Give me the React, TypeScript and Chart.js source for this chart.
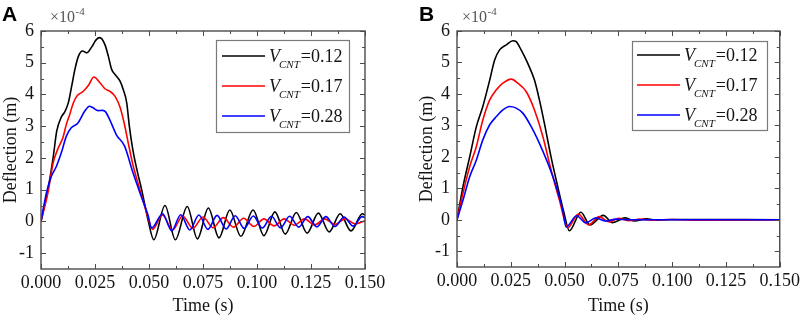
import React, { useEffect, useRef } from 'react';
import { Chart, registerables } from 'chart.js';

Chart.register(...registerables);

type Pt = [number, number];

// ---------- data (time in s, deflection in 1e-4 m) ----------
const X_TICKS = [0, 0.025, 0.05, 0.075, 0.1, 0.125, 0.15];
const Y_TICKS = [-1, 0, 1, 2, 3, 4, 5, 6];
const LEGEND_VALUES = ['0.12', '0.17', '0.28'];
const SERIES_COLORS = ['#000000', '#ff0000', '#0000ff'];
const X_TITLE = 'Time (s)';
const Y_TITLE = 'Deflection (m)';
const PANEL_LETTERS = ['A', 'B'];

const A_012: Pt[] = [
  [0, 0], [0.0016, 0.5], [0.0032, 1.0], [0.0056, 2.0], [0.0073, 2.85], [0.0095, 3.3], [0.011, 3.45],
  [0.0127, 3.75], [0.0142, 4.26], [0.0157, 4.79], [0.0173, 5.2], [0.0192, 5.37], [0.0212, 5.31],
  [0.0235, 5.5], [0.0255, 5.72], [0.0272, 5.79], [0.0296, 5.57], [0.0312, 5.2], [0.0327, 4.79],
  [0.0343, 4.63], [0.0366, 4.42], [0.0381, 4.15], [0.0397, 3.73], [0.0409, 3.0], [0.0425, 2.26],
  [0.0445, 1.6], [0.0466, 1.0], [0.0497, 0], [0.0522, -0.58],
  [0.0574, 0.5], [0.0622, -0.58], [0.0677, 0.47], [0.0724, -0.55], [0.0775, 0.42], [0.0824, -0.52],
  [0.0874, 0.36], [0.0925, -0.47], [0.0982, 0.36], [0.1032, -0.45], [0.1083, 0.3], [0.1131, -0.4],
  [0.1182, 0.28], [0.1232, -0.37], [0.1284, 0.26], [0.1334, -0.33], [0.1385, 0.24], [0.1435, -0.3],
  [0.1488, 0.24], [0.15, 0.2],
];
const A_017: Pt[] = [
  [0, 0], [0.0032, 0.9], [0.0056, 1.84], [0.0079, 2.3], [0.0102, 2.65], [0.0117, 3.05], [0.0133, 3.37],
  [0.0148, 3.7], [0.0165, 3.94], [0.0196, 4.1], [0.0219, 4.28], [0.0245, 4.55], [0.0273, 4.37],
  [0.0296, 4.18], [0.0319, 4.1], [0.0343, 3.94], [0.0366, 3.6], [0.0385, 3.1], [0.0403, 2.5],
  [0.0425, 1.8], [0.0449, 1.2], [0.0488, 0.3], [0.0517, -0.25],
  [0.0562, 0.2], [0.0609, -0.27], [0.0656, 0.17], [0.0703, -0.22], [0.075, 0.14], [0.0797, -0.2],
  [0.0844, 0.12], [0.0891, -0.18], [0.0938, 0.1], [0.0985, -0.16], [0.1032, 0.08], [0.1079, -0.14],
  [0.1126, 0.08], [0.1173, -0.12], [0.122, 0.08], [0.1267, -0.11], [0.1314, 0.08], [0.1361, -0.1],
  [0.1408, 0.08], [0.1455, -0.08], [0.15, 0.02],
];
const A_028: Pt[] = [
  [0, 0], [0.0025, 0.9], [0.0048, 1.42], [0.0071, 1.73], [0.0094, 2.16], [0.0117, 2.68], [0.014, 2.95],
  [0.0171, 3.1], [0.0202, 3.47], [0.0225, 3.63], [0.0241, 3.58], [0.0264, 3.49], [0.0285, 3.5],
  [0.0298, 3.46], [0.0318, 3.21], [0.0349, 2.73], [0.0387, 2.37], [0.0426, 1.53], [0.0464, 0.79],
  [0.0495, 0.21], [0.0512, -0.21],
  [0.0563, 0.24], [0.0605, -0.3], [0.0647, 0.21], [0.0689, -0.27], [0.0731, 0.2], [0.0773, -0.25],
  [0.0815, 0.19], [0.0857, -0.24], [0.0899, 0.18], [0.0941, -0.22], [0.0983, 0.17], [0.1025, -0.21],
  [0.1067, 0.16], [0.1109, -0.2], [0.1151, 0.16], [0.1193, -0.18], [0.1235, 0.15], [0.1277, -0.17],
  [0.1319, 0.15], [0.1361, -0.16], [0.1403, 0.14], [0.1445, -0.15], [0.1487, 0.15], [0.15, 0.12],
];

const B_012: Pt[] = [
  [0, 0], [0.0028, 1.06], [0.0059, 2.0], [0.009, 2.96], [0.012, 3.6], [0.0152, 4.44], [0.0175, 5.08],
  [0.0198, 5.4], [0.0229, 5.56], [0.026, 5.69], [0.0275, 5.66], [0.0298, 5.4], [0.0329, 4.97],
  [0.036, 4.44], [0.0383, 3.81], [0.0406, 3.07], [0.0437, 2.0], [0.0468, 1.06], [0.0496, 0.26],
  [0.0522, -0.35],
  [0.0576, 0.24], [0.0618, -0.16], [0.068, 0.14], [0.0723, -0.09], [0.0782, 0.06], [0.0825, -0.04],
  [0.088, 0.03], [0.093, -0.01], [0.1, 0.01], [0.15, 0],
];
const B_017: Pt[] = [
  [0, 0], [0.0028, 0.85], [0.0059, 1.69], [0.009, 2.33], [0.012, 3.17], [0.0152, 3.81], [0.0183, 4.13],
  [0.0213, 4.34], [0.0252, 4.47], [0.0283, 4.34], [0.0322, 4.07], [0.036, 3.49], [0.0399, 2.65],
  [0.0437, 1.59], [0.0476, 0.63], [0.0515, -0.25],
  [0.0564, 0.18], [0.0612, -0.16], [0.0661, 0.1], [0.0708, -0.07], [0.0752, 0.05], [0.08, -0.03],
  [0.085, 0.02], [0.09, -0.01], [0.1, 0.01], [0.11, -0.01], [0.15, 0],
];
const B_028: Pt[] = [
  [0, 0], [0.0028, 0.63], [0.0059, 1.37], [0.009, 1.9], [0.012, 2.54], [0.0152, 3.02], [0.0183, 3.28],
  [0.0213, 3.49], [0.0244, 3.6], [0.0275, 3.55], [0.0306, 3.39], [0.0345, 2.96], [0.0383, 2.43],
  [0.0422, 1.8], [0.0461, 1.06], [0.0491, 0.32], [0.0507, -0.23],
  [0.0556, 0.13], [0.0599, -0.1], [0.0646, 0.06], [0.069, -0.04], [0.074, 0.02], [0.08, 0], [0.15, 0],
];

// ---------- styling ----------
const SERIF = "'Liberation Serif', 'Times New Roman', serif";
const SANS = "'Liberation Sans', Arial, sans-serif";
const TEXT = '#141414';
const AXIS = '#4a4a4a';

type Layout = {
  canvasLeft: number; width: number; padLeft: number; padRight: number; padTop: number;
  yAxisW: number; xAxisH: number;
  letterX: number; expX: number;
  legend: { x: number; y: number; w: number; h: number; lineX0: number; lineX1: number; textX: number; row0: number; rowStep: number };
};

const LAYOUTS: Layout[] = [
  {
    canvasLeft: 0, width: 401, padLeft: 0, padRight: 36, padTop: 31, yAxisW: 41, xAxisH: 48,
    letterX: 2, expX: 50,
    legend: { x: 216, y: 40, w: 133, h: 92, lineX0: 222, lineX1: 265, textX: 269, row0: 56, rowStep: 30 },
  },
  {
    canvasLeft: 401, width: 402, padLeft: 15, padRight: 22, padTop: 31, yAxisW: 41, xAxisH: 50,
    letterX: 18, expX: 61,
    legend: { x: 231, y: 41, w: 135, h: 89, lineX0: 236, lineX1: 279, textX: 283, row0: 55, rowStep: 30 },
  },
];

const frameTicksPlugin = {
  id: 'frameTicks',
  afterDatasetsDraw(chart: any) {
    const { ctx, chartArea } = chart;
    const { left, right, top, bottom } = chartArea;
    const xs = chart.scales.x;
    const ys = chart.scales.y;
    ctx.save();
    ctx.strokeStyle = AXIS;
    ctx.lineWidth = 1;
    const xv: number[] = xs.ticks.map((t: any) => t.value);
    const yv: number[] = ys.ticks.map((t: any) => t.value);
    const xMinor: number[] = [];
    for (let i = 0; i < xv.length - 1; i++) xMinor.push((xv[i] + xv[i + 1]) / 2);
    const yMinor: number[] = [];
    for (let i = 0; i < yv.length - 1; i++) yMinor.push((yv[i] + yv[i + 1]) / 2);
    ctx.beginPath();
    const hx = (v: number, len: number) => {
      const p = Math.round(xs.getPixelForValue(v)) + 0.5;
      ctx.moveTo(p, bottom); ctx.lineTo(p, bottom - len);
      ctx.moveTo(p, top); ctx.lineTo(p, top + len);
    };
    const hy = (v: number, len: number) => {
      const p = Math.round(ys.getPixelForValue(v)) + 0.5;
      ctx.moveTo(left, p); ctx.lineTo(left + len, p);
      ctx.moveTo(right, p); ctx.lineTo(right - len, p);
    };
    xv.forEach((v) => hx(v, 5));
    xMinor.forEach((v) => hx(v, 3));
    yv.forEach((v) => hy(v, 5));
    yMinor.forEach((v) => hy(v, 3));
    ctx.stroke();
    ctx.lineWidth = 1.4;
    ctx.strokeRect(left, top, right - left, bottom - top);
    ctx.restore();
  },
};

function makeLegendPlugin(L: Layout) {
  return {
    id: 'vcntLegend',
    afterDatasetsDraw(chart: any) {
      const { ctx } = chart;
      const g = L.legend;
      ctx.save();
      ctx.fillStyle = '#ffffff';
      ctx.fillRect(g.x, g.y, g.w, g.h);
      ctx.strokeStyle = '#7a7a7a';
      ctx.lineWidth = 1.2;
      ctx.strokeRect(g.x + 0.5, g.y + 0.5, g.w, g.h);
      chart.data.datasets.forEach((ds: any, i: number) => {
        const ly = g.row0 + i * g.rowStep;
        ctx.strokeStyle = ds.borderColor;
        ctx.lineWidth = 1.6;
        ctx.beginPath();
        ctx.moveTo(g.lineX0, ly);
        ctx.lineTo(g.lineX1, ly);
        ctx.stroke();
        const base = ly + 6;
        let tx = g.textX;
        ctx.fillStyle = TEXT;
        ctx.textBaseline = 'alphabetic';
        ctx.textAlign = 'left';
        ctx.font = `italic 18px ${SERIF}`;
        ctx.fillText('V', tx, base);
        tx += ctx.measureText('V').width - 1;
        ctx.font = `italic 11px ${SERIF}`;
        ctx.fillText('CNT', tx, base + 6);
        tx += ctx.measureText('CNT').width + 1;
        ctx.font = `18px ${SERIF}`;
        ctx.fillText('=' + LEGEND_VALUES[i], tx, base);
      });
      ctx.restore();
    },
  };
}

function makeAnnotPlugin(letter: string, L: Layout) {
  return {
    id: 'panelAnnot',
    afterDraw(chart: any) {
      const { ctx } = chart;
      ctx.save();
      ctx.textBaseline = 'alphabetic';
      ctx.textAlign = 'left';
      ctx.fillStyle = '#000';
      ctx.font = `bold 21px ${SANS}`;
      ctx.fillText(letter, L.letterX, 21);
      ctx.fillStyle = '#555';
      ctx.font = `16px ${SERIF}`;
      ctx.fillText('\u00d710', L.expX, 22);
      const w = ctx.measureText('\u00d710').width;
      ctx.font = `11px ${SERIF}`;
      ctx.fillText('-4', L.expX + w + 0.5, 15);
      ctx.restore();
    },
  };
}

function Panel({ index, series }: { index: number; series: Pt[][] }) {
  const ref = useRef<HTMLCanvasElement | null>(null);
  const L = LAYOUTS[index];
  useEffect(() => {
    if (!ref.current) return;
    const chart = new Chart(ref.current, {
      type: 'scatter',
      data: {
        datasets: series.map((s, i) => ({
          label: `VCNT=${LEGEND_VALUES[i]}`,
          data: s.map(([x, y]) => ({ x, y })),
          showLine: true,
          borderColor: SERIES_COLORS[i],
          backgroundColor: SERIES_COLORS[i],
          borderWidth: 1.6,
          pointRadius: 0,
          pointHoverRadius: 0,
          cubicInterpolationMode: 'monotone',
          order: 2 - i,
        })),
      },
      options: {
        responsive: false,
        animation: false,
        events: [],
        layout: { padding: { left: L.padLeft, right: L.padRight, top: L.padTop, bottom: 0 } },
        plugins: { legend: { display: false }, tooltip: { enabled: false }, title: { display: false } },
        scales: {
          x: {
            type: 'linear',
            min: 0,
            max: 0.15,
            border: { display: false },
            grid: { display: false, drawTicks: false },
            afterBuildTicks: (s: any) => { s.ticks = X_TICKS.map((v) => ({ value: v })); },
            ticks: {
              callback: (v: any) => Number(v).toFixed(3),
              font: { family: SERIF, size: 18 },
              color: TEXT,
              padding: 3,
              maxRotation: 0,
              autoSkip: false,
            },
            title: { display: true, text: X_TITLE, font: { family: SERIF, size: 18 }, color: TEXT, padding: { top: 0, bottom: 0 } },
            afterFit: (s: any) => { s.height = L.xAxisH; },
          },
          y: {
            type: 'linear',
            min: -1.5,
            max: 6,
            border: { display: false },
            grid: { display: false, drawTicks: false },
            afterBuildTicks: (s: any) => { s.ticks = Y_TICKS.map((v) => ({ value: v })); },
            ticks: {
              callback: (v: any) => String(v),
              font: { family: SERIF, size: 18 },
              color: TEXT,
              padding: 7,
              autoSkip: false,
            },
            title: { display: true, text: Y_TITLE, font: { family: SERIF, size: 18 }, color: TEXT, padding: { top: 0, bottom: 0 } },
            afterFit: (s: any) => { s.width = L.yAxisW; },
          },
        },
      } as any,
      plugins: [frameTicksPlugin, makeLegendPlugin(L), makeAnnotPlugin(PANEL_LETTERS[index], L)],
    });
    return () => chart.destroy();
  }, []);
  return (
    <canvas
      ref={ref}
      width={L.width}
      height={317}
      style={{ position: 'absolute', left: L.canvasLeft, top: 0, width: L.width, height: 317, display: 'block' }}
    />
  );
}

export default function App() {
  return (
    <div style={{ position: 'fixed', left: 0, top: 0, width: 803, height: 317, background: '#ffffff', overflow: 'hidden' }}>
      <Panel index={0} series={[A_012, A_017, A_028]} />
      <Panel index={1} series={[B_012, B_017, B_028]} />
    </div>
  );
}
